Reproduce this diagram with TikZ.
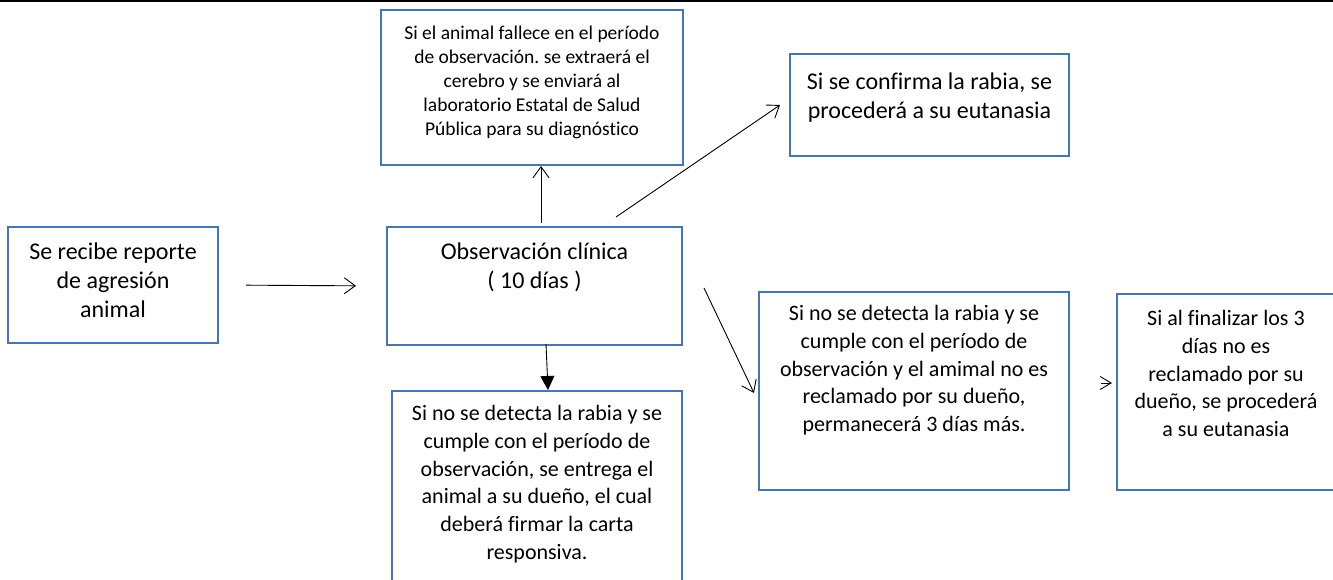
\documentclass[tikz,border=0pt]{standalone}
\usepackage{fontspec}
\setmainfont{Carlito}[Ligatures=NoCommon]
\frenchspacing
\usetikzlibrary{arrows.meta}
\definecolor{boxblue}{RGB}{70,118,170}
\tikzset{
  box/.style={draw=boxblue, line width=2pt, inner sep=0pt, fill=none},
  txt/.style={inner sep=0pt, align=center, anchor=north},
  big/.style={font=\fontsize{24}{29}\selectfont},
  mid/.style={font=\fontsize{22}{27.8}\selectfont},
  small/.style={font=\fontsize{19.5}{24}\selectfont},
  arr/.style={draw=black, line width=0.9pt, -{Straight Barb[length=11pt,width=16pt,line width=0.9pt]}},
  arrfill/.style={draw=black, line width=0.9pt, -{Triangle[length=14pt,width=14pt]}}
}
\begin{document}
\begin{tikzpicture}[x=1pt,y=-1pt]
\useasboundingbox (0,0) rectangle (1333,579);
\clip (0,0) rectangle (1333,579);
% top rule
\draw[black, line width=1.6pt] (0,0.8) -- (1333,0.8);
% boxes
\node[box, minimum width=210pt, minimum height=116pt] (b1) at (113,285) {};
\node[box, minimum width=295pt, minimum height=118pt] (obs) at (534.5,286) {};
\node[box, minimum width=302pt, minimum height=155pt] (fal) at (532,87.5) {};
\node[box, minimum width=279pt, minimum height=102pt] (conf) at (929.5,105) {};
\node[box, minimum width=290pt, minimum height=220pt] (ent) at (537,501) {};
\node[box, minimum width=310pt, minimum height=198pt] (mid) at (914,391) {};
\node[box, minimum width=228pt, minimum height=196pt] (far) at (1231,392) {};
% texts
\node[txt, big] (t1) at ([yshift=-17pt]b1.north) {Se recibe reporte\\de agresión\\animal};
\node[txt, big] (t2) at ([yshift=-17pt]obs.north) {Observación clínica\\( 10 días )};
\node[txt, small] (t3) at ([yshift=-17pt]fal.north) {Si el animal fallece en el período\\de observación. se extraerá el\\cerebro y se enviará al\\laboratorio Estatal de Salud\\Pública para su diagnóstico};
\node[txt, big] (t4) at ([yshift=-20pt]conf.north) {Si se confirma la rabia, se\\procederá a su eutanasia};
\node[txt, mid] (t5) at ([yshift=-15pt]ent.north) {Si no se detecta la rabia y se\\cumple con el período de\\observación, se entrega el\\animal a su dueño, el cual\\deberá firmar la carta\\responsiva.};
\node[txt, mid] (t6) at ([yshift=-14pt]mid.north) {Si no se detecta la rabia y se\\cumple con el período de\\observación y el amimal no es\\reclamado por su dueño,\\permanecerá 3 días más.};
\node[txt, mid] (t7) at ([shift={(-5pt,-17pt)}]far.north) {Si al finalizar los 3\\días no es\\reclamado por su\\dueño, se procederá\\a su eutanasia};
% connectors
\draw[arr, shorten <=27pt, shorten >=30pt] (b1.east) -- (obs.west);
\draw[arr] ([shift={(6.5pt,3pt)}]obs.north) -- ([xshift=9pt]fal.south);
\draw[arr] ([shift={(81.5pt,9pt)}]obs.north) -- ([xshift=-9pt]conf.west);
\draw[arrfill] ([shift={(11.5pt,2pt)}]obs.south) -- ([xshift=11pt]ent.north);
\draw[arr] ([shift={(21pt,-2pt)}]obs.east) -- ([shift={(-4pt,-2pt)}]mid.west);
\draw[arr, -{Straight Barb[length=11pt,width=13pt,line width=0.9pt]}] ([shift={(31pt,8pt)}]mid.east) -- ([shift={(-4pt,9pt)}]far.west);
\end{tikzpicture}
\end{document}
